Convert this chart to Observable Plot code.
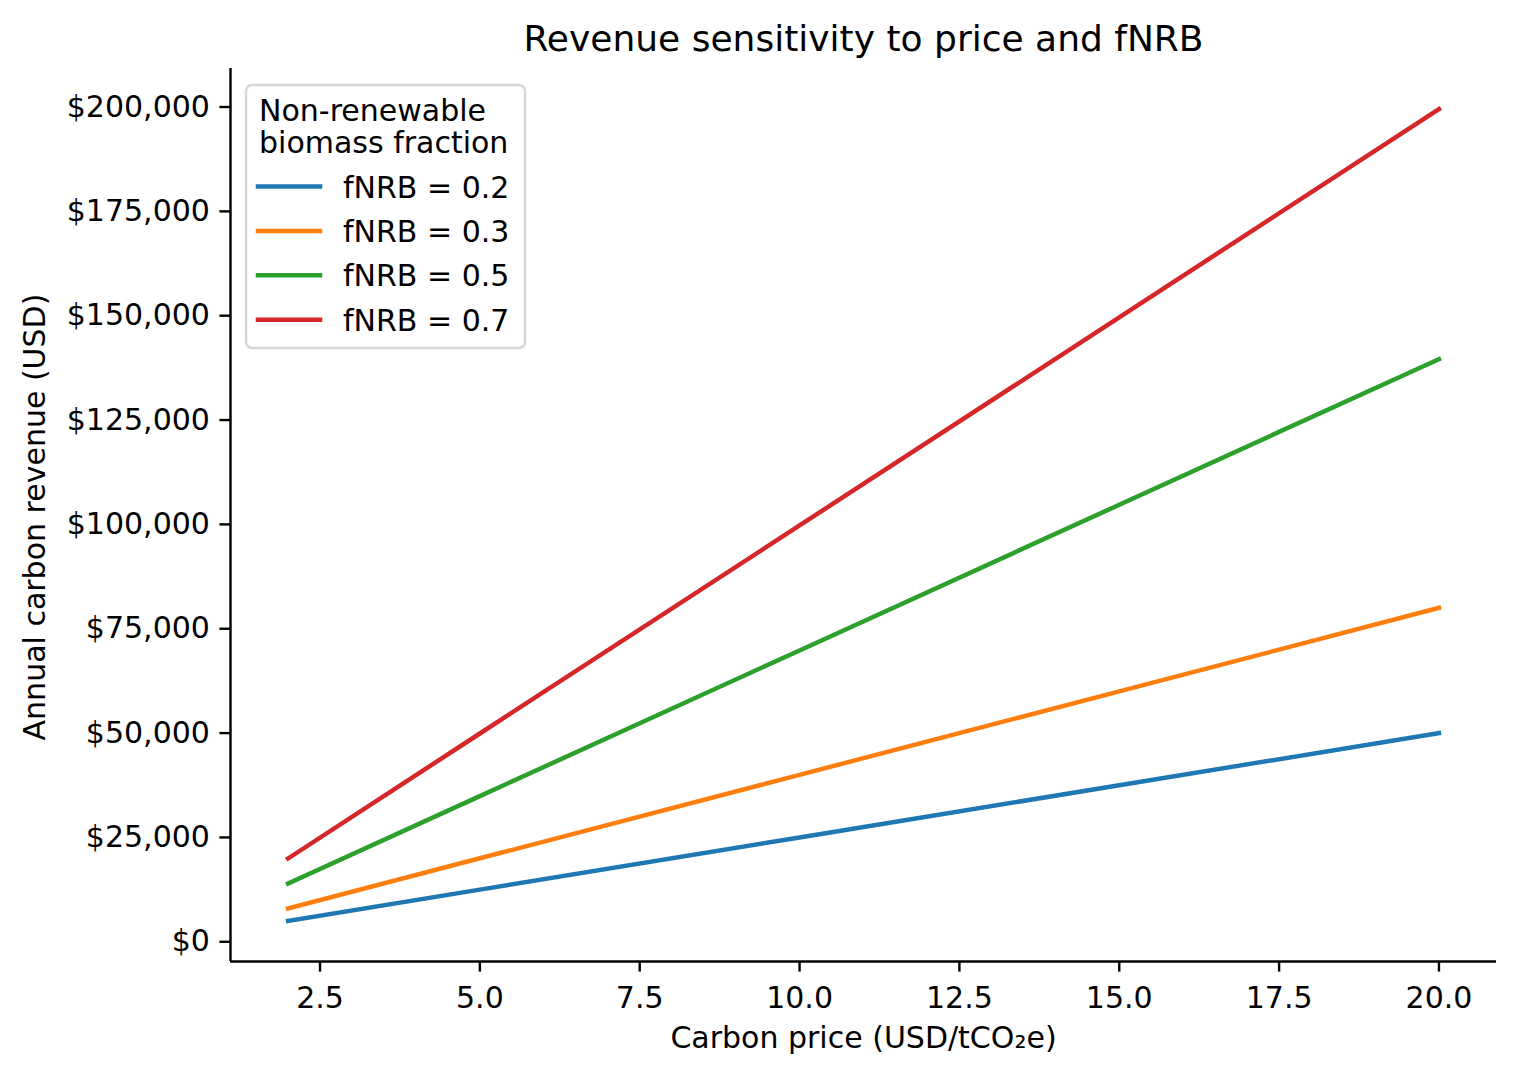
<!DOCTYPE html>
<html><head><meta charset="utf-8">
<script src="https://cdn.jsdelivr.net/npm/d3@7"></script>
<script src="https://cdn.jsdelivr.net/npm/@observablehq/plot@0.6"></script>
<style>
body{margin:0;background:#fff;}
#wrap{position:relative;width:1517px;height:1076px;font-family:"DejaVu Sans";}
#wrap svg{display:block;}
#overlay{position:absolute;left:0;top:0;}
</style></head><body><div id="wrap"></div>
<script>
// ---- data ----
const prices = [2, 5, 10, 15, 20];
const fractions = ["fNRB = 0.2", "fNRB = 0.3", "fNRB = 0.5", "fNRB = 0.7"];
const revenue02 = [5000, 12500, 25000, 37500, 50000];
const revenue03 = [8000, 20000, 40000, 60000, 80000];
const revenue05 = [13950, 34900, 69800, 104700, 139600];
const revenue07 = [19950, 49900, 99750, 149600, 199500];
const colors = ["#1f77b4", "#ff7f0e", "#2ca02c", "#d62728"];
const yTicks = [0, 25000, 50000, 75000, 100000, 125000, 150000, 175000, 200000];
const xTicks = [2.5, 5, 7.5, 10, 12.5, 15, 17.5, 20];
const xDomain = [1.1, 20.9];
const yDomain = [-4725, 209225];
const titleText = "Revenue sensitivity to price and fNRB";
const xLabel = "Carbon price (USD/tCO₂e)";
const yLabel = "Annual carbon revenue (USD)";
const legendTitle = ["Non-renewable", "biomass fraction"];

const series = [revenue02, revenue03, revenue05, revenue07];
const rows = [];
fractions.forEach((f, i) => prices.forEach((p, j) => rows.push({fraction: f, price: p, revenue: series[i][j]})));

const fmtUSD = d => "$" + d3.format(",")(d);

const chart = Plot.plot({
  width: 1517, height: 1076,
  marginLeft: 230, marginRight: 21, marginTop: 68, marginBottom: 115,
  style: {fontFamily: "DejaVu Sans", fontSize: "30px", color: "#000", background: "#fff"},
  x: {domain: xDomain},
  y: {domain: yDomain},
  color: {domain: fractions, range: colors},
  marks: [
    Plot.axisY({ticks: yTicks, tickFormat: fmtUSD, tickSize: 10.6, tickPadding: 10, strokeWidth: 2.4, label: null, fontSize: 30}),
    Plot.axisX({ticks: xTicks, tickFormat: d3.format(".1f"), tickSize: 10.6, tickPadding: 15, strokeWidth: 2.4, label: null, fontSize: 30}),
    Plot.ruleX([xDomain[0]], {stroke: "#000", strokeWidth: 2.4}),
    Plot.ruleY([yDomain[0]], {stroke: "#000", strokeWidth: 2.4}),
    Plot.line(rows, {x: "price", y: "revenue", z: "fraction", stroke: "fraction", strokeWidth: 4.5, strokeLinecap: "square"}),
    Plot.text([titleText], {text: d => d, frameAnchor: "top", lineAnchor: "middle", textAnchor: "middle", dy: -29, fontSize: 36, fill: "#000"}),
    Plot.text([xLabel], {text: d => d, frameAnchor: "bottom", lineAnchor: "middle", textAnchor: "middle", dy: 77, fontSize: 30, fill: "#000"}),
    Plot.text([yLabel], {text: d => d, frameAnchor: "left", lineAnchor: "middle", textAnchor: "middle", dx: -195, dy: 2, rotate: -90, fontSize: 30, fill: "#000"})
  ]
});
document.getElementById("wrap").appendChild(chart);

// ---- legend overlay ----
const ov = d3.select("#wrap").append("svg").attr("id", "overlay")
  .attr("width", 1517).attr("height", 1076)
  .style("font-family", "DejaVu Sans").style("font-size", "30px");
ov.append("rect").attr("x", 246).attr("y", 85).attr("width", 279).attr("height", 263)
  .attr("rx", 6).attr("fill", "#fff").attr("fill-opacity", 0.8)
  .attr("stroke", "#d6d6d6").attr("stroke-width", 2.5);
legendTitle.forEach((t, i) => ov.append("text").attr("x", 259).attr("y", 121 + i * 32).text(t));
fractions.forEach((f, i) => {
  const y = 186.5 + i * 44.4;
  ov.append("line").attr("x1", 258).attr("x2", 320).attr("y1", y).attr("y2", y)
    .attr("stroke", colors[i]).attr("stroke-width", 4.5).attr("stroke-linecap", "square");
  ov.append("text").attr("x", 343).attr("y", y + 11).text(f);
});
</script></body></html>
